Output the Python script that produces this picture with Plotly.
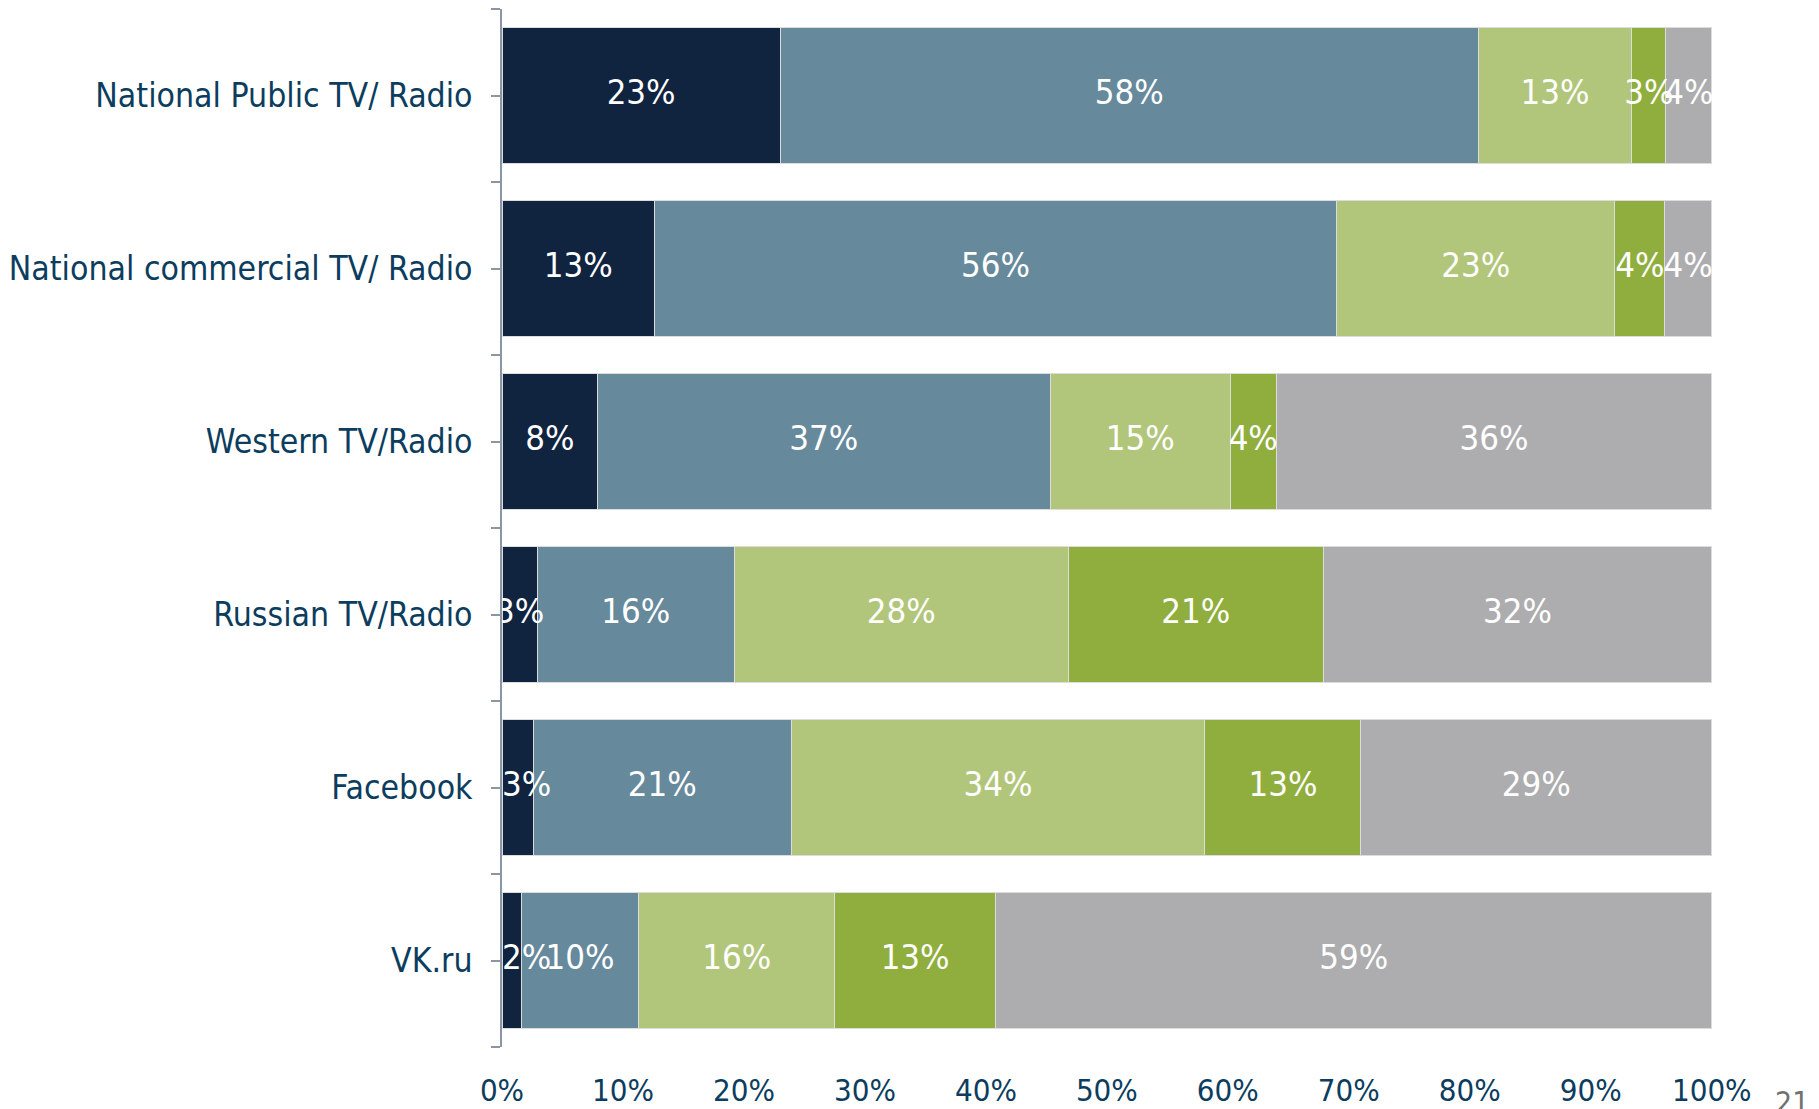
import plotly.graph_objects as go

categories = ["National Public TV/ Radio", "National commercial TV/ Radio", "Western TV/Radio",
              "Russian TV/Radio", "Facebook", "VK.ru"]

series_names = ["s1", "s2", "s3", "s4", "s5"]
s1 = [23.0, 12.6, 7.9, 2.9, 2.6, 1.6]
s2 = [57.7, 56.4, 37.4, 16.3, 21.3, 9.7]
s3 = [12.7, 23.0, 14.9, 27.6, 34.2, 16.2]
s4 = [2.8, 4.1, 3.8, 21.1, 12.9, 13.3]
s5 = [3.8, 3.9, 36.0, 32.1, 29.0, 59.2]
series_values = [s1, s2, s3, s4, s5]
colors = ["#10233f", "#67899c", "#b1c67a", "#90ae3e", "#adadaf"]

x_tick_vals = [0, 10, 20, 30, 40, 50, 60, 70, 80, 90, 100]
x_tick_text = [f"{v}%" for v in x_tick_vals]

FONT = "DejaVu Sans Condensed, Roboto, Liberation Sans, sans-serif"
TEXT_COLOR = "#0c3d5e"
LABEL_SIZE = 34.5

ypos = list(range(len(categories)))

fig = go.Figure()
for name, vals, col in zip(series_names, series_values, colors):
    fig.add_trace(go.Bar(
        name=name, y=ypos, x=vals, orientation="h",
        marker=dict(color=col, line=dict(color="#dcdcdc", width=1)),
        width=0.79, hoverinfo="skip",
    ))

# value labels, placed at the middle of each stacked segment
starts = [0.0] * len(categories)
for si, vals in enumerate(series_values):
    xs, tps = [], []
    for i, v in enumerate(vals):
        if si == 0 and v < 2.8:
            xs.append(starts[i])          # tiny first segment: label starts at the bar start
            tps.append("middle right")
        else:
            xs.append(starts[i] + v / 2)
            tps.append("middle center")
    fig.add_trace(go.Scatter(
        x=xs, y=ypos, mode="text",
        text=[f"{round(v)}%" for v in vals], textposition=tps,
        textfont=dict(color="white", size=LABEL_SIZE, family=FONT),
        cliponaxis=False, hoverinfo="skip", showlegend=False,
    ))
    starts = [s + v for s, v in zip(starts, vals)]

fig.update_layout(
    barmode="stack",
    width=1811, height=1101,
    margin=dict(l=493, r=107, t=1, b=59),
    paper_bgcolor="white", plot_bgcolor="white",
    showlegend=False,
    font=dict(family=FONT, color=TEXT_COLOR),
)
fig.update_xaxes(
    range=[0, 100.02], tickvals=x_tick_vals, ticktext=x_tick_text,
    showgrid=False, zeroline=False, showline=False, ticks="",
    tickfont=dict(size=31, color=TEXT_COLOR, family=FONT),
    ticklabelstandoff=22,
)
fig.update_yaxes(
    range=[len(categories) - 0.5, -0.5],
    tickvals=ypos, ticktext=categories,
    showgrid=False, zeroline=False,
    showline=True, linecolor="#8a96a3", linewidth=1.5,
    ticks="outside", ticklen=9, tickcolor="#8a96a3", tickwidth=1.5,
    minor=dict(tickvals=[i - 0.5 for i in range(len(categories) + 1)],
               ticks="outside", ticklen=9, tickcolor="#8a96a3", tickwidth=1.5),
    tickfont=dict(size=33.5, color=TEXT_COLOR, family=FONT),
    ticklabelstandoff=12,
)
fig.add_annotation(
    text="21", xref="paper", yref="paper", x=1.0507, y=-0.035,
    xanchor="left", yanchor="top", showarrow=False,
    font=dict(size=30, color="#707070", family=FONT),
)
fig.write_html("out.html")
